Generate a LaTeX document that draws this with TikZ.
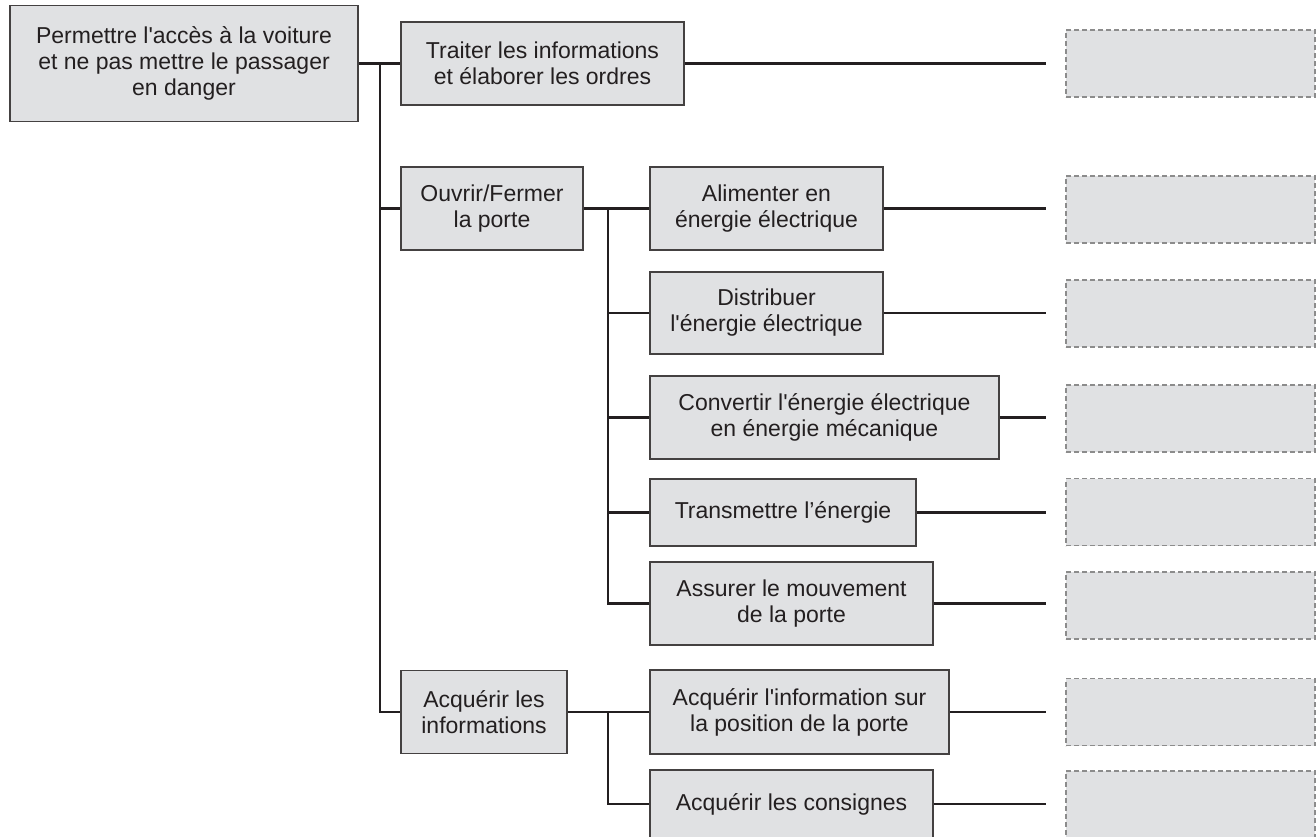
\documentclass[tikz,border=0pt]{standalone}
\usepackage{fontspec}
\setmainfont{Liberation Sans}
\definecolor{boxfill}{RGB}{224,225,227}
\definecolor{ink}{RGB}{35,31,32}
\definecolor{dashgray}{RGB}{140,140,140}

\begin{document}
\begin{tikzpicture}[x=1pt,y=-1pt,
  fonction/.style={draw=ink!85,line width=1.6pt,fill=boxfill,inner sep=0pt,align=center,
    text=ink,font=\fontsize{23}{26}\selectfont},
  solution/.style={draw=dashgray,dash pattern=on 5pt off 3pt,line width=1.3pt,fill=boxfill,
    minimum width=249pt,minimum height=67pt,inner sep=0pt},
  trait/.style={ink,line width=2.3pt}]
\useasboundingbox (0,0) rectangle (1316,836);
% fonctions
\node[fonction,minimum width=348pt,minimum height=116pt] (root) at (184,63.5)
  {Permettre l\textquotesingle acc\`es \`a la voiture\\et ne pas mettre le passager\\en danger};
\node[fonction,minimum width=283pt,minimum height=83pt] (traiter) at (542.5,63.5)
  {Traiter les informations\\et \'elaborer les ordres};
\node[fonction,minimum width=182pt,minimum height=83pt] (ouvrir) at (492,208.5)
  {Ouvrir/Fermer\\la porte};
\node[fonction,minimum width=166pt,minimum height=83pt] (acqinfo) at (484,712)
  {Acqu\'erir les\\informations};
\node[fonction,minimum width=233pt,minimum height=83pt] (alim) at (766.5,208.5)
  {Alimenter en\\\'energie \'electrique};
\node[fonction,minimum width=233pt,minimum height=82pt] (distrib) at (766.5,313)
  {Distribuer\\l\textquotesingle\'energie \'electrique};
\node[fonction,minimum width=349pt,minimum height=83pt] (convert) at (824.5,417.5)
  {Convertir l\textquotesingle\'energie \'electrique\\en \'energie m\'ecanique};
\node[fonction,minimum width=266pt,minimum height=67pt] (transm) at (783,512.5)
  {Transmettre l’\'energie};
\node[fonction,minimum width=283pt,minimum height=83pt] (assurer) at (791.5,603.5)
  {Assurer le mouvement\\de la porte};
\node[fonction,minimum width=299pt,minimum height=84pt] (acqpos) at (799.5,712)
  {Acqu\'erir l\textquotesingle information sur\\la position de la porte};
\node[fonction,minimum width=283pt,minimum height=68pt] (consignes) at (791.5,804)
  {Acqu\'erir les consignes};
% solutions (vides)
\node[solution] (sol1) at (1190.5,63.5) {};
\node[solution] (sol2) at (1190.5,209.5) {};
\node[solution] (sol3) at (1190.5,313.5) {};
\node[solution] (sol4) at (1190.5,418.5) {};
\node[solution] (sol5) at (1190.5,512) {};
\node[solution] (sol6) at (1190.5,605.5) {};
\node[solution] (sol7) at (1190.5,712) {};
\node[solution] (sol8) at (1190.5,804.5) {};
% liaisons
\coordinate (tronc) at (380,0);
\coordinate (stronc) at (608,0);
\coordinate (fin) at (1046,0);
\draw[trait] (root.east) -- (traiter.west);
\draw[trait] (tronc |- traiter.west) -- (tronc |- acqinfo.west) -- (acqinfo.west);
\draw[trait] (tronc |- ouvrir.west) -- (ouvrir.west);
\draw[trait] (ouvrir.east) -- (alim.west);
\draw[trait] (stronc |- alim.west) -- (stronc |- assurer.west) -- (assurer.west);
\foreach \n in {distrib,convert,transm}
  \draw[trait] (stronc |- \n.west) -- (\n.west);
\draw[trait] (acqinfo.east) -- (acqpos.west);
\draw[trait] (stronc |- acqpos.west) -- (stronc |- consignes.west) -- (consignes.west);
\foreach \n in {traiter,alim,distrib,convert,transm,assurer,acqpos,consignes}
  \draw[trait] (\n.east) -- (fin |- \n.east);
\end{tikzpicture}
\end{document}
